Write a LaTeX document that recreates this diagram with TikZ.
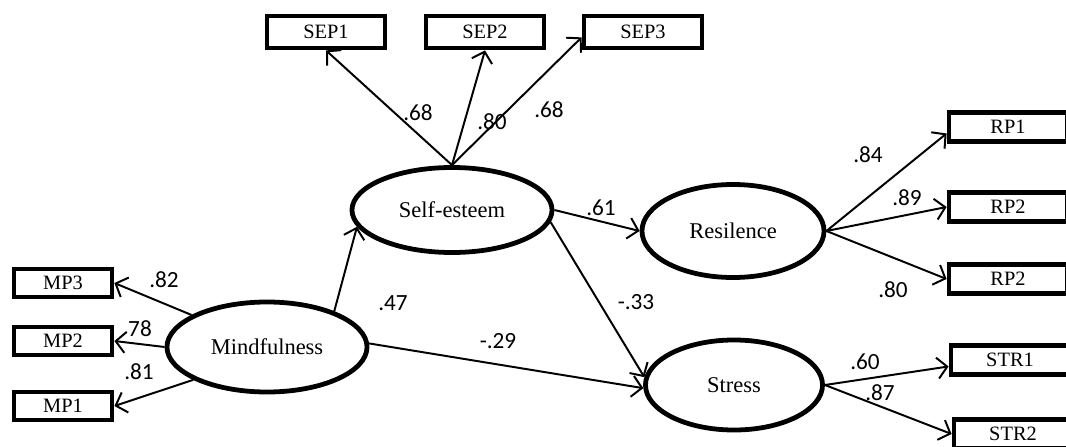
\documentclass[tikz,border=0pt]{standalone}
\usepackage{fontspec}
\setmainfont{Liberation Serif}
\newfontfamily\coeffont{Carlito}
\usetikzlibrary{arrows.meta,shapes.geometric}

\tikzset{
  latent/.style={ellipse,draw,line width=3.4pt,fill=white,inner sep=0pt,
    font=\fontsize{16}{18}\selectfont},
  item/.style={rectangle,draw,line width=3.4pt,fill=white,inner sep=0pt,
    font=\fontsize{14.5}{16}\selectfont},
  load/.style={line width=1.4pt,-{Straight Barb[length=7pt,width=15pt,line width=1.4pt]}},
  coef/.style={inner sep=0pt,font=\coeffont\fontsize{16.5}{18}\selectfont}
}

\begin{document}
\begin{tikzpicture}[x=0.025cm,y=-0.025cm]
  \useasboundingbox (0,0) rectangle (1066,447);
  \clip (0,0) rectangle (1066,447);

  % latent variables
  \node[latent,minimum width=5cm,minimum height=2.25cm] (mind) at (267,347) {Mindfulness};
  \node[latent,minimum width=5cm,minimum height=2.125cm] (self) at (452,210) {Self-esteem};
  \node[latent,minimum width=4.55cm,minimum height=2.325cm] (resil) at (733,231) {Resilence};
  \node[latent,minimum width=4.425cm,minimum height=2.25cm] (stress) at (734,385) {Stress};

  % observed items
  \foreach \name/\txt/\y in {mp3/MP3/283,mp2/MP2/341,mp1/MP1/406}
    \node[item,minimum width=2.45cm,minimum height=0.7cm] (\name) at (63,\y) {\txt};
  \foreach \name/\txt/\x in {sep1/SEP1/326,sep2/SEP2/485,sep3/SEP3/643}
    \node[item,minimum width=2.95cm,minimum height=0.8cm] (\name) at (\x,32) {\txt};
  \foreach \name/\txt/\x/\y in {rp1/RP1/1008/127,rp2/RP2/1008/207,rp3/RP2/1008/279,
                                str1/STR1/1010/360,str2/STR2/1013/434}
    \node[item,minimum width=2.95cm,minimum height=0.725cm] (\name) at (\x,\y) {\txt};

  % loadings
  \draw[load] (mind.157) -- (mp3.east);
  \draw[load] (mind.west) -- (mp2.east);
  \draw[load] (mind.204) -- (mp1.east);
  \draw[load] (self.north) -- (sep1.south);
  \draw[load] (self.north) -- (sep2.south);
  \draw[load] (self.north) -- (sep3.185);
  \draw[load] (resil.east) -- (rp1.186);
  \draw[load] (resil.east) -- (rp2.west);
  \draw[load] (resil.east) -- (rp3.west);
  \draw[load] (stress.east) -- (str1.186);
  \draw[load] (stress.east) -- (str2.west);

  % structural paths
  \draw[load] (mind.28) -- (self.190);
  \draw[load] (mind.2) -- (stress.182);
  \draw[load] (self.east) -- (resil.west);
  \draw[load] (self.-7) -- (stress.175);

  % coefficients
  \foreach \name/\val/\x/\y in {c1/.82/164/280,c2/78/140/329,c3/.81/139/372,
      c4/.68/418/113,c5/.80/492/122,c6/.68/549/110,
      c7/.47/393/303,c8/-.29/498/341,c9/.61/601/208,c10/-.33/636/302,
      c11/.84/868/155,c12/.89/907/198,c13/.80/893/290,c14/.60/865/362,c15/.87/880/393}
    \node[coef] (\name) at (\x,\y) {\val};
\end{tikzpicture}
\end{document}
